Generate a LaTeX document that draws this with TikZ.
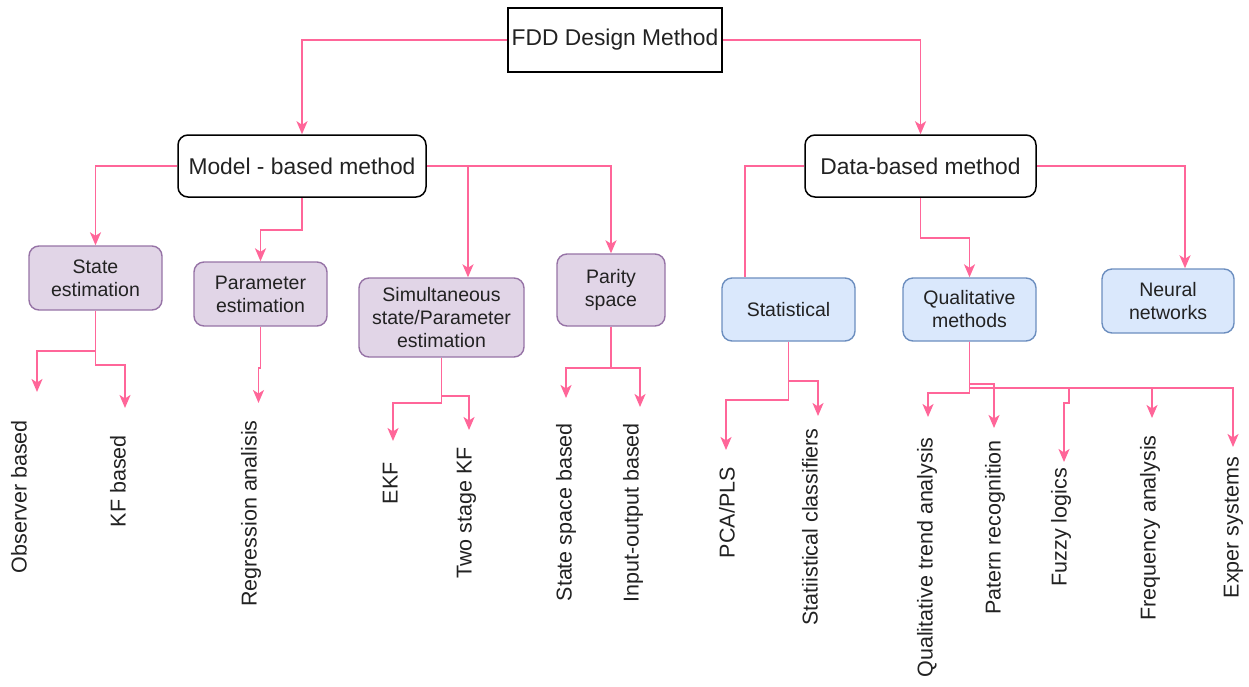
\documentclass[tikz,border=0pt]{standalone}
\usepackage{fontspec}
\setmainfont{Liberation Sans}
\usetikzlibrary{arrows.meta}
\definecolor{pinkline}{HTML}{FF6699}
\definecolor{purfill}{HTML}{E1D5E7}
\definecolor{purdraw}{HTML}{9673A6}
\definecolor{bluefill}{HTML}{DAE8FC}
\definecolor{bluedraw}{HTML}{6C8EBF}
\definecolor{txt}{HTML}{222222}
\begin{document}
\begin{tikzpicture}[x=1pt,y=-1pt,
  conn/.style={draw=pinkline, line width=1.9pt},
  arr/.style={conn, -{Stealth[length=13pt,width=11pt,inset=3.5pt]}},
  topbox/.style={draw=black, line width=1.5pt, fill=white, inner sep=0pt, text=txt,
     font=\fontsize{22.8}{26}\selectfont},
  midbox/.style={topbox, rounded corners=10pt},
  purbox/.style={draw=purdraw, fill=purfill, line width=1.4pt, rounded corners=10pt,
     inner sep=0pt, align=center, text=txt, font=\fontsize{19.5}{23}\selectfont},
  bluebox/.style={purbox, draw=bluedraw, fill=bluefill},
  leaf/.style={rotate=90, anchor=east, inner sep=0pt, text=txt,
     font=\fontsize{21.5}{24}\selectfont, text height=15.5pt, text depth=4.5pt}
]
\useasboundingbox (0,0) rectangle (1249,686);

% top and second level
\node[topbox, minimum width=214pt, minimum height=64pt] (top) at (615,40) {FDD Design Method};
\node[midbox, minimum width=248pt, minimum height=62pt] (model) at (302,166) {Model - based method};
\node[midbox, minimum width=231pt, minimum height=62pt] (data) at (920.5,166) {Data-based method};

% third level
\node[purbox, minimum width=133pt, minimum height=64pt] (state) at (95.5,278) {State\\estimation};
\node[purbox, minimum width=133pt, minimum height=64pt] (param) at (260.5,294) {Parameter\\estimation};
\node[purbox, minimum width=165pt, minimum height=79pt] (simul) at (441.5,317.5) {Simultaneous\\state/Parameter\\estimation};
\node[purbox, minimum width=108pt, minimum height=72pt] (parity) at (611,290) {Parity\\space};
\node[bluebox, minimum width=133pt, minimum height=63pt] (stat) at (788.5,309.5) {Statistical};
\node[bluebox, minimum width=133pt, minimum height=63pt] (qual) at (969.5,309.5) {Qualitative\\methods};
\node[bluebox, minimum width=132pt, minimum height=64pt] (neural) at (1168,301) {Neural\\networks};

% leaves
\node[leaf] (obs) at (21,420) {Observer based};
\node[leaf] (kf) at (120,435) {KF based};
\node[leaf] (reg) at (251,420) {Regression analisis};
\node[leaf] (ekf) at (392,462) {EKF};
\node[leaf] (two) at (466,447) {Two stage KF};
\node[leaf] (ssb) at (566,423) {State space based};
\node[leaf] (iob) at (633,423) {Input-output based};
\node[leaf] (pca) at (729,467) {PCA/PLS};
\node[leaf] (scl) at (812,428) {Statiistical classifiers};
\node[leaf] (qta) at (927,437) {Qualitative trend analysis};
\node[leaf] (pat) at (995,440) {Patern recognition};
\node[leaf] (fuz) at (1061,468) {Fuzzy logics};
\node[leaf] (freq) at (1150,435) {Frequency analysis};
\node[leaf] (exp) at (1233,457) {Exper systems};

% arrow tips above the leaves
\coordinate (t-obs) at (37,392);
\coordinate (t-kf) at (125,408);
\coordinate (t-reg) at (258.5,403);
\coordinate (t-ekf) at (393,441);
\coordinate (t-two) at (469,430);
\coordinate (t-ssb) at (566,398);
\coordinate (t-iob) at (640,407);
\coordinate (t-pca) at (726,450);
\coordinate (t-scl) at (818,416);
\coordinate (t-qta) at (928,417);
\coordinate (t-pat) at (994,428);
\coordinate (t-fuz) at (1064,462);
\coordinate (t-freq) at (1152,418);
\coordinate (t-exp) at (1233,447);

% level 1 -> 2
\draw[arr] (top.west) -| (model.north);
\draw[arr] (top.east) -| (data.north);

% model children
\draw[arr] (model.west) -| (state.north);
\draw[arr] (model.south) -- (302,230) -| (param.north);
\draw[arr] (model.east) -| ([xshift=26.5pt]simul.north);
\draw[arr] (model.east) -| (parity.north);

% data children
\draw[conn] (data.west) -| ([xshift=-43.5pt]stat.north);
\draw[arr] (data.south) -- (920.5,238) -| (qual.north);
\draw[arr] (data.east) -| ([xshift=17pt]neural.north);

% leaves of model branch
\draw[arr] (state.south) -- (95.5,351) -| (t-obs);
\draw[arr] (state.south) -- (95.5,365) -| (t-kf);
\draw[arr] (param.south) -- (260.5,368) -| (t-reg);
\draw[arr] (simul.south) -- (441.5,403) -| (t-ekf);
\draw[arr] (simul.south) -- (441.5,396) -| (t-two);
\draw[arr] (parity.south) -- (611,368) -| (t-ssb);
\draw[arr] (parity.south) -- (611,368) -| (t-iob);

% leaves of data branch
\draw[arr] (stat.south) -- (788.5,400) -| (t-pca);
\draw[arr] (stat.south) -- (788.5,381) -| (t-scl);
\draw[arr] (qual.south) -- (969.5,393) -| (t-qta);
\draw[arr] (qual.south) -- (969.5,384) -| (t-pat);
\draw[arr] (qual.south) -- (969.5,388) -- (1069,388) -- (1069,403) -| (t-fuz);
\draw[arr] (qual.south) -- (969.5,388) -| (t-freq);
\draw[arr] (qual.south) -- (969.5,388) -| (t-exp);
\end{tikzpicture}
\end{document}
